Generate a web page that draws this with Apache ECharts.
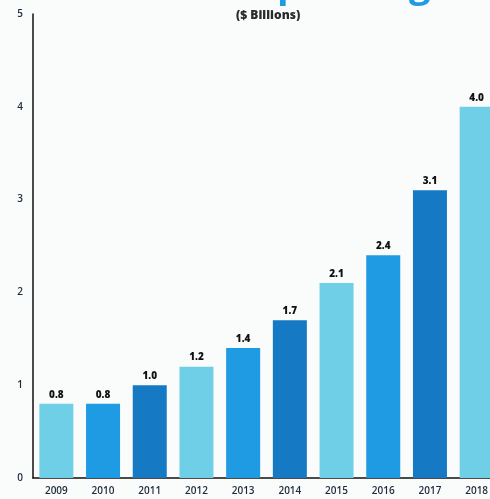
<!DOCTYPE html>
<html>
<head>
<meta charset="utf-8">
<script src="https://cdn.jsdelivr.net/npm/echarts@6/dist/echarts.min.js"></script>
<style>
html,body{margin:0;padding:0;background:#fafbfb;overflow:hidden;}
#chart{width:490px;height:499px;}
</style>
</head>
<body>
<div id="chart"></div>
<script>
const years = ['2009','2010','2011','2012','2013','2014','2015','2016','2017','2018'];
const spending = [0.8, 0.8, 1.0, 1.2, 1.4, 1.7, 2.1, 2.4, 3.1, 4.0];
const yTicks = [0, 1, 2, 3, 4, 5];
const palette = ['#6fcfe6', '#1e9be3', '#1579c3'];

const chart = echarts.init(document.getElementById('chart'), null, {renderer: 'canvas'});
chart.setOption({
  backgroundColor: '#fafbfb',
  animation: false,
  graphic: [
    {type: 'text', left: 256, top: -33, style: {text: 'Spending', font: 'bold 38px "Open Sans", sans-serif', fill: '#1e9be3'}},
    {type: 'text', left: 236, top: 10, z: 10, style: {text: '($ Billions)', font: '800 12px "Open Sans", sans-serif', fill: '#2a2a2a'}}
  ],
  grid: {left: 33, width: 467, top: 14, bottom: 21, containLabel: false, outerBoundsMode: 'none'},
  xAxis: {
    type: 'category',
    data: years,
    axisLine: {show: true, lineStyle: {color: '#111', width: 1.5}},
    axisTick: {show: false},
    axisLabel: {color: '#1d2b3a', fontSize: 10, fontFamily: 'Open Sans', fontWeight: 600, margin: 8}
  },
  yAxis: {
    type: 'value',
    min: yTicks[0],
    max: yTicks[yTicks.length - 1],
    interval: 1,
    axisLine: {show: true, lineStyle: {color: '#111', width: 1.5}},
    axisTick: {show: false},
    splitLine: {show: false},
    axisLabel: {color: '#1d2b3a', fontSize: 10, fontFamily: 'Open Sans', fontWeight: 600, margin: 10, padding: [7, 0, 0, 0]}
  },
  series: [{
    type: 'bar',
    data: spending.map((v, i) => ({value: v, itemStyle: {color: palette[i % 3]}})),
    barWidth: 34,
    label: {
      show: true,
      position: 'top',
      distance: 4,
      color: '#111',
      fontSize: 10,
      fontWeight: 800,
      fontFamily: 'Open Sans',
      formatter: p => p.value.toFixed(1)
    }
  }]
});
</script>
</body>
</html>
